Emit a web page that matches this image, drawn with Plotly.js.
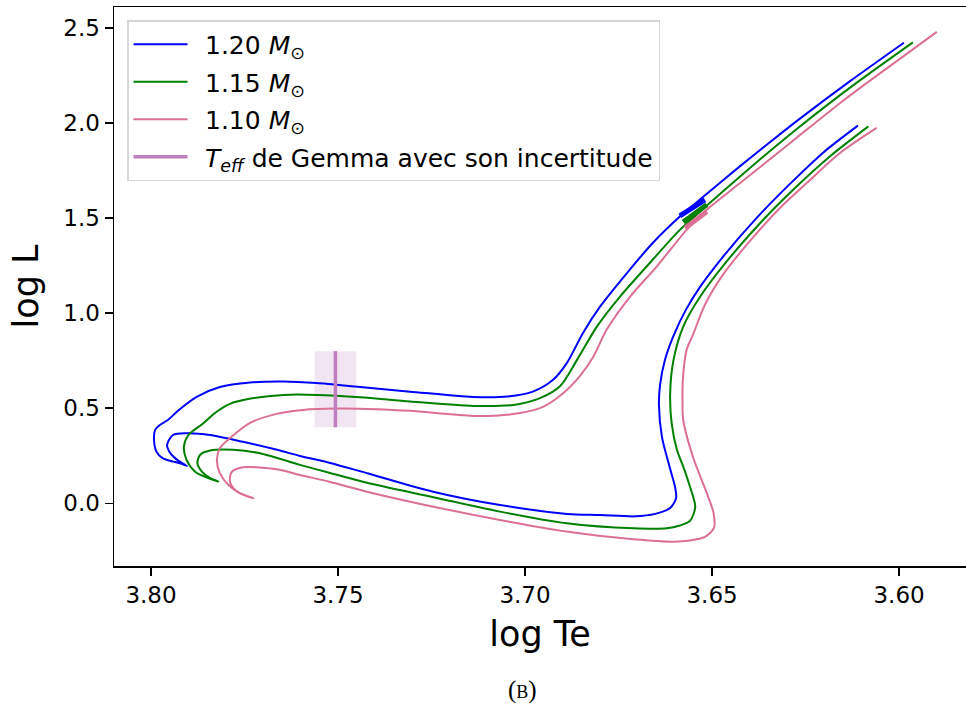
<!DOCTYPE html>
<html>
<head>
<meta charset="utf-8">
<script src="https://cdn.plot.ly/plotly-3.0.1.min.js"></script>
<style>html,body{margin:0;padding:0;background:#fff;}#chart{width:966px;height:703px;}</style>
</head>
<body>
<div id="chart"></div>
<script>
// Track 1.20 Msun (pre-MS -> ZAMS -> MS hook -> subgiant -> RGB)
const te120 = [3.6110,3.6203,3.6291,3.6380,3.6473,3.6532,3.6570,3.6602,3.6626,3.6639,3.6642,3.6634,3.6615,3.6599,3.6596,3.6612,3.6652,3.6706,3.6799,3.6888,3.7067,3.7246,3.7422,3.7521,3.7602,3.7663,3.7754,3.7842,3.7904,3.7941,3.7957,3.7949,3.7930,3.7904,
  3.7918,3.7940,3.7968,3.7985,3.7992,3.7989,3.7976,3.7955,3.7928,3.7878,3.7816,3.7735,3.7646,3.7557,3.7441,3.7307,3.7139,3.7048,3.6979,3.6925,3.6888,3.6845,3.6799,3.6727,3.6658,3.6586,3.6513,3.6425,3.6337,3.6265,3.6131,3.5987];
const lum120 = [1.986,1.844,1.681,1.502,1.291,1.138,1.017,0.886,0.754,0.623,0.517,0.349,0.202,0.086,0.028,-0.025,-0.056,-0.069,-0.062,-0.056,-0.009,0.061,0.158,0.212,0.249,0.281,0.323,0.359,0.368,0.359,0.307,0.265,0.228,0.196,
  0.207,0.219,0.236,0.270,0.333,0.386,0.412,0.438,0.486,0.559,0.611,0.635,0.640,0.632,0.611,0.587,0.559,0.561,0.587,0.649,0.738,0.896,1.035,1.212,1.370,1.508,1.629,1.773,1.912,2.023,2.220,2.422];

// Track 1.15 Msun
const te115 = [3.6082,3.6185,3.6274,3.6363,3.6457,3.6532,3.6577,3.6603,3.6612,3.6608,3.6594,3.6577,3.6559,3.6545,3.6559,3.6586,3.6621,3.6710,3.6889,3.7067,3.7245,3.7423,3.7521,3.7602,3.7709,3.7780,3.7842,3.7869,3.7876,3.7864,3.7842,3.7820,
  3.7847,3.7882,3.7905,3.7912,3.7900,3.7860,3.7829,3.7789,3.7726,3.7646,3.7557,3.7441,3.7307,3.7138,3.7031,3.6960,3.6906,3.6861,3.6808,3.6746,3.6675,3.6586,3.6513,3.6425,3.6337,3.6265,3.6131,3.5963];
const lum115 = [1.982,1.824,1.666,1.491,1.281,1.086,0.929,0.754,0.579,0.421,0.281,0.193,0.087,-0.019,-0.093,-0.117,-0.132,-0.132,-0.105,-0.044,0.032,0.108,0.159,0.202,0.263,0.281,0.277,0.254,0.211,0.166,0.132,0.114,
  0.132,0.166,0.228,0.298,0.359,0.421,0.475,0.523,0.553,0.570,0.570,0.558,0.535,0.512,0.517,0.553,0.617,0.754,0.929,1.087,1.245,1.438,1.567,1.719,1.866,1.982,2.186,2.424];

// Track 1.10 Msun
const te110 = [3.6060,3.6158,3.6247,3.6318,3.6398,3.6473,3.6519,3.6551,3.6568,3.6578,3.6579,3.6577,3.6550,3.6514,3.6496,3.6495,3.6519,3.6559,3.6603,3.6710,3.6889,3.7067,3.7245,3.7423,3.7521,3.7602,3.7664,3.7753,3.7784,3.7789,3.7775,3.7753,3.7726,
  3.7762,3.7793,3.7816,3.7824,3.7816,3.7784,3.7735,3.7664,3.7593,3.7503,3.7397,3.7307,3.7138,3.7049,3.6960,3.6898,3.6853,3.6817,3.6782,3.6719,3.6648,3.6568,3.6514,3.6425,3.6336,3.6247,3.6153,3.6086,3.5899];
const lum110 = [1.974,1.842,1.684,1.554,1.381,1.196,1.044,0.886,0.807,0.649,0.544,0.438,0.238,0.053,-0.051,-0.130,-0.177,-0.196,-0.202,-0.189,-0.149,-0.088,-0.018,0.061,0.112,0.149,0.179,0.189,0.165,0.114,0.070,0.044,0.026,
  0.053,0.096,0.158,0.228,0.289,0.351,0.423,0.470,0.491,0.498,0.495,0.486,0.459,0.465,0.500,0.579,0.670,0.772,0.912,1.087,1.245,1.438,1.544,1.684,1.824,1.965,2.112,2.211,2.479];

// Highlighted segments on the RGB
const segTe120 = [3.6586,3.6519], segL120 = [1.512,1.596];
const segTe115 = [3.6577,3.6514], segL115 = [1.479,1.570];
const segTe110 = [3.6572,3.6514], segL110 = [1.447,1.535];

// Gemma's effective temperature (log) with its uncertainty
const teffGemma = [3.7507];
const teffErr = [0.0056];
const teffLumRange = [0.40, 0.80];

const trackNames = ['1.20 <i>M</i><sub>⊙</sub>','1.15 <i>M</i><sub>⊙</sub>','1.10 <i>M</i><sub>⊙</sub>'];
const teffName = '<i>T</i><sub><i>eff</i></sub> de Gemma avec son incertitude';
const xTicks = [3.80,3.75,3.70,3.65,3.60];
const yTicks = [0.0,0.5,1.0,1.5,2.0,2.5];

const cBlue='#0000ff', cGreen='#008000', cPink='#db7093', cPurple='#bf7fbf';
const gap = '\u2002';

const t0 = teffGemma[0], e0 = teffErr[0];
const sp = {shape:'spline', smoothing:0.8};
const traces = [
  {x:[t0-e0,t0+e0,t0+e0,t0-e0,t0-e0], y:[teffLumRange[0],teffLumRange[0],teffLumRange[1],teffLumRange[1],teffLumRange[0]],
   type:'scatter', mode:'lines', fill:'toself', fillcolor:'rgba(128,0,128,0.1)', line:{width:0,color:'rgba(0,0,0,0)'}, showlegend:false, hoverinfo:'skip'},
  {x:te120, y:lum120, type:'scatter', mode:'lines', name:gap+trackNames[0], line:Object.assign({color:cBlue,width:2},sp), legendgroup:'a'},
  {x:te115, y:lum115, type:'scatter', mode:'lines', name:gap+trackNames[1], line:Object.assign({color:cGreen,width:2},sp), legendgroup:'b'},
  {x:te110, y:lum110, type:'scatter', mode:'lines', name:gap+trackNames[2], line:Object.assign({color:cPink,width:2},sp), legendgroup:'c'},
  {x:segTe120, y:segL120, type:'scatter', mode:'lines', line:{color:cBlue,width:5}, showlegend:false, legendgroup:'a'},
  {x:segTe115, y:segL115, type:'scatter', mode:'lines', line:{color:cGreen,width:5}, showlegend:false, legendgroup:'b'},
  {x:segTe110, y:segL110, type:'scatter', mode:'lines', line:{color:cPink,width:5}, showlegend:false, legendgroup:'c'},
  {x:[t0,t0], y:teffLumRange, type:'scatter', mode:'lines', name:gap+teffName, line:{color:cPurple,width:3.5}, legendgroup:'d'}
];

const layout = {
  width:966, height:703,
  margin:{l:114, r:0, t:7, b:137},
  paper_bgcolor:'#fff', plot_bgcolor:'#fff',
  font:{family:'DejaVu Sans', size:23, color:'#000'},
  showlegend:true,
  legend:{x:(127-114)/852, y:(566-20)/559, xanchor:'left', yanchor:'top', bgcolor:'rgba(255,255,255,0.8)', bordercolor:'#d6d6d6', borderwidth:1.5,
          font:{family:'DejaVu Sans', size:25, color:'#000'}, traceorder:'grouped', tracegroupgap:2, itemwidth:54},
  xaxis:{range:[3.8099,3.5821], tickvals:xTicks, ticktext:xTicks.map(v=>v.toFixed(2)), showgrid:false, zeroline:false,
         showline:true, linecolor:'#000', linewidth:1.5, mirror:true, ticks:'outside', ticklen:8, tickwidth:1.5, tickcolor:'#000',
         tickfont:{size:23}, title:{text:'log Te', font:{size:35}, standoff:14}},
  yaxis:{range:[-0.330,2.610], tickvals:yTicks, ticktext:yTicks.map(v=>v.toFixed(1)), showgrid:false, zeroline:false,
         showline:true, linecolor:'#000', linewidth:1.5, mirror:true, ticks:'outside', ticklen:8, tickwidth:1.5, tickcolor:'#000',
         tickfont:{size:23}, title:{text:'log L', font:{size:35}, standoff:14}},
  annotations:[{text:'(b)', xref:'paper', yref:'paper', x:(522-114)/852, y:-(690-566)/559, xanchor:'center', yanchor:'middle',
                showarrow:false, font:{family:'Liberation Serif', size:25, color:'#000', variant:'small-caps'}}]
};

Plotly.newPlot('chart', traces, layout, {displayModeBar:false, staticPlot:true});
</script>
</body>
</html>
